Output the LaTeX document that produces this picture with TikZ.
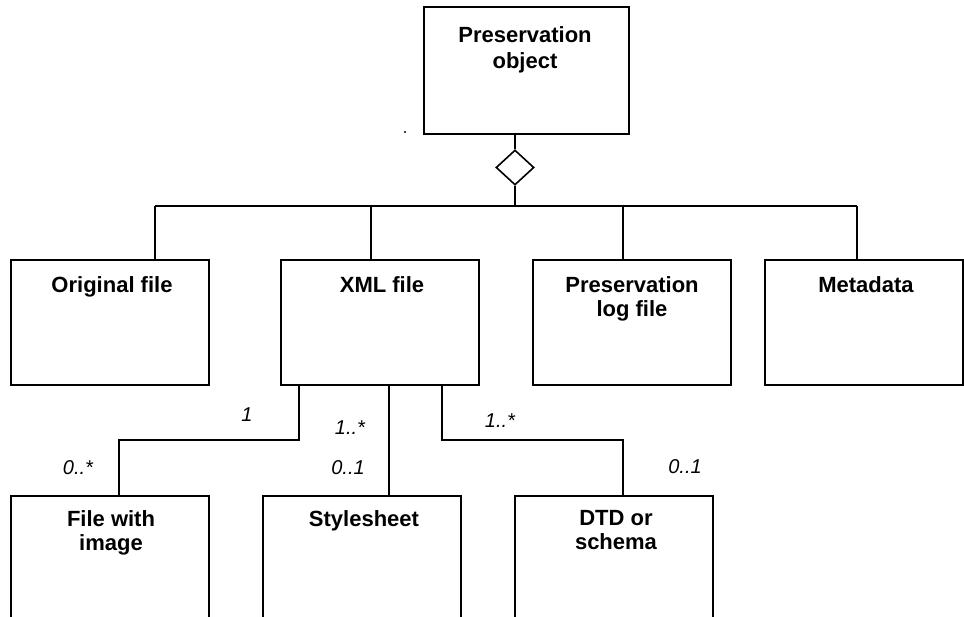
\documentclass[tikz,border=0pt]{standalone}
\usepackage{fontspec}
\setmainfont{Liberation Sans}
\usetikzlibrary{shapes.geometric}
\tikzset{
  classbox/.style={draw, line width=1.8pt, rectangle, inner sep=0pt},
  boxtext/.style={anchor=north, inner sep=0pt, align=center,
    font=\fontsize{22}{24.5}\selectfont\bfseries},
  mult/.style={inner sep=0pt, font=\fontsize{20}{22}\selectfont\itshape},
  wire/.style={line width=1.8pt},
}
\begin{document}
\begin{tikzpicture}[x=1pt, y=-1pt]
\useasboundingbox (0,0) rectangle (964,617);
\clip (0,0) rectangle (964,617);

% aggregate root
\node[classbox, minimum width=205pt, minimum height=127pt] (pres) at (526.5,70.5) {};
\node[boxtext, font=\fontsize{22}{26}\selectfont\bfseries] (pres-t) at (525,26.4) {Preservation\\object};
\fill (405,132) circle (1.2pt);

% aggregation diamond
\node[draw, line width=1.6pt, diamond, inner sep=0pt, minimum width=38pt,
      minimum height=35pt, aspect=1] (dia) at (515,167.5) {};

% second row
\node[classbox, minimum width=198pt, minimum height=125pt] (orig) at (110,322.5) {};
\node[classbox, minimum width=198pt, minimum height=125pt] (xml)  at (380,322.5) {};
\node[classbox, minimum width=198pt, minimum height=125pt] (plog) at (632,322.5) {};
\node[classbox, minimum width=198pt, minimum height=125pt] (meta) at (864,322.5) {};
\node[boxtext] (orig-t) at (112,276.5) {Original file};
\node[boxtext] (xml-t)  at (382,276.5) {XML file};
\node[boxtext] (plog-t) at (632,276.2) {Preservation\\log file};
\node[boxtext] (meta-t) at (866,276.5) {Metadata};

% third row (continues below the page)
\node[classbox, minimum width=198pt, minimum height=160pt] (fimg)  at (110,576) {};
\node[classbox, minimum width=198pt, minimum height=160pt] (style) at (362,576) {};
\node[classbox, minimum width=198pt, minimum height=160pt] (dtd)   at (614,576) {};
\node[boxtext, font=\fontsize{22}{23.5}\selectfont\bfseries] (fimg-t)  at (111,510.4) {File with\\image};
\node[boxtext] (style-t) at (364,510.4) {Stylesheet};
\node[boxtext, font=\fontsize{22}{23.5}\selectfont\bfseries] (dtd-t)   at (616,510.4) {DTD or\\schema};

% attachment points
\coordinate (bus) at (515,206);
\coordinate (to-orig) at (155,260);
\coordinate (to-xml)  at (371,260);
\coordinate (to-plog) at (623,260);
\coordinate (to-meta) at (857,260);
\coordinate (xa) at (299,385);
\coordinate (xb) at (389,385);
\coordinate (xc) at (442,385);
\coordinate (to-fimg)  at (119,496);
\coordinate (to-style) at (389,496);
\coordinate (to-dtd)   at (623,496);

% aggregation tree
\draw[wire] (dia.north) -- (dia.north |- pres.south);
\draw[wire] (dia.south) -- (bus);
\draw[wire] (to-orig |- bus) -- (to-meta |- bus);
\draw[wire] (to-orig |- bus) -- (to-orig);
\draw[wire] (to-xml |- bus) -- (to-xml);
\draw[wire] (to-plog |- bus) -- (to-plog);
\draw[wire] (to-meta |- bus) -- (to-meta);

% associations of the XML file
\draw[wire] (xa) -- ++(0,55) -| (to-fimg);
\draw[wire] (xb) -- (to-style);
\draw[wire] (xc) -- ++(0,55) -| (to-dtd);

% multiplicities
\node[mult] (m1) at (247,415) {1};
\node[mult] (m2) at (350,428) {1..*};
\node[mult] (m3) at (78,468) {0..*};
\node[mult] (m4) at (348,468) {0..1};
\node[mult] (m5) at (500,421) {1..*};
\node[mult] (m6) at (685,467) {0..1};
\end{tikzpicture}
\end{document}
